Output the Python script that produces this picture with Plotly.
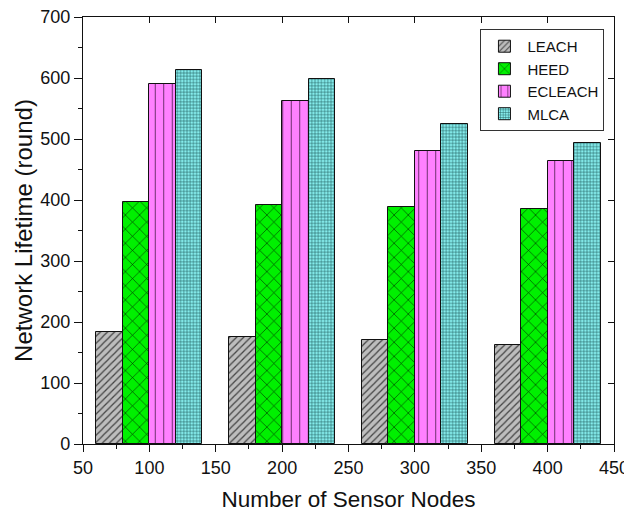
import plotly.graph_objects as go

nodes = [100, 200, 300, 400]
series = ["LEACH", "HEED", "ECLEACH", "MLCA"]
leach = [184, 176, 171, 163]
heed = [397, 391, 389, 386]
ecleach = [590, 563, 480, 464]
mlca = [613, 598, 525, 493]
offsets = [-30, -10, 10, 30]

styles = [
    dict(shape="/", bg="#bdbdbd", fg="#444444", size=5, solidity=0.25),
    dict(shape="x", bg="#00f000", fg="#003300", size=10, solidity=0.12),
    dict(shape="|", bg="#ff80ff", fg="#552255", size=8.5, solidity=0.1),
    dict(shape="+", bg="#85ecec", fg="#1f5a5a", size=3.2, solidity=0.3),
]

fig = go.Figure()
for name, vals, off, st in zip(series, [leach, heed, ecleach, mlca], offsets, styles):
    fig.add_trace(go.Bar(
        name=name,
        x=[n + off for n in nodes],
        y=vals,
        width=20,
        marker=dict(
            color=st["bg"],
            line=dict(color="#111111", width=1),
            pattern=dict(shape=st["shape"], bgcolor=st["bg"], fgcolor=st["fg"],
                         size=st["size"], solidity=st["solidity"], fillmode="replace"),
        ),
    ))

FONT = "Liberation Sans, Arial, sans-serif"
xt = [50, 100, 150, 200, 250, 300, 350, 400, 450]
# page body has an 8px margin, so the figure is sized 624x504 and margins compensate
fig.update_layout(
    width=624, height=504,
    margin=dict(l=75, r=18, t=9, b=68),
    plot_bgcolor="white", paper_bgcolor="white",
    bargap=0, barmode="overlay",
    font=dict(family=FONT, size=18, color="#111111"),
    showlegend=True,
    legend=dict(x=0.982, y=0.972, xanchor="right", yanchor="top",
                bordercolor="#333333", borderwidth=1, bgcolor="white",
                font=dict(family=FONT, size=15, color="#111111"),
                itemwidth=36, tracegroupgap=0),
    xaxis=dict(range=[50, 450], tickvals=xt,
               ticks="outside", ticklen=7, tickwidth=1.2, tickcolor="#111111",
               showline=True, linecolor="#111111", linewidth=1.3, mirror=True,
               showgrid=False, zeroline=False, automargin=False,
               tickfont=dict(size=18), ticklabeloverflow="allow",
               minor=dict(dtick=25, tick0=50, ticks="outside", ticklen=4, tickcolor="#111111"),
               title=dict(text="Number of Sensor Nodes", font=dict(size=22.5), standoff=14)),
    yaxis=dict(range=[0, 700], dtick=100, ticks="outside", ticklen=8, tickwidth=1.2,
               tickcolor="#111111",
               showline=True, linecolor="#111111", linewidth=1.3, mirror=True,
               showgrid=False, zeroline=False, automargin=False,
               tickfont=dict(size=18), ticklabeloverflow="allow",
               minor=dict(dtick=50, ticks="outside", ticklen=4, tickcolor="#111111"),
               title=dict(text="Network Lifetime (round)", font=dict(size=24), standoff=0)),
    xaxis2=dict(range=[50, 450], overlaying="x", side="top", tickvals=xt,
                ticks="inside", ticklen=6, tickcolor="#111111", showticklabels=False,
                showgrid=False, zeroline=False, automargin=False),
    yaxis2=dict(range=[0, 700], overlaying="y", side="right", dtick=100,
                ticks="inside", ticklen=6, tickcolor="#111111", showticklabels=False,
                showgrid=False, zeroline=False, automargin=False),
)
fig.add_trace(go.Scatter(x=[None], y=[None], xaxis="x2", yaxis="y2", showlegend=False, hoverinfo="skip"))

fig.write_html("out.html")
